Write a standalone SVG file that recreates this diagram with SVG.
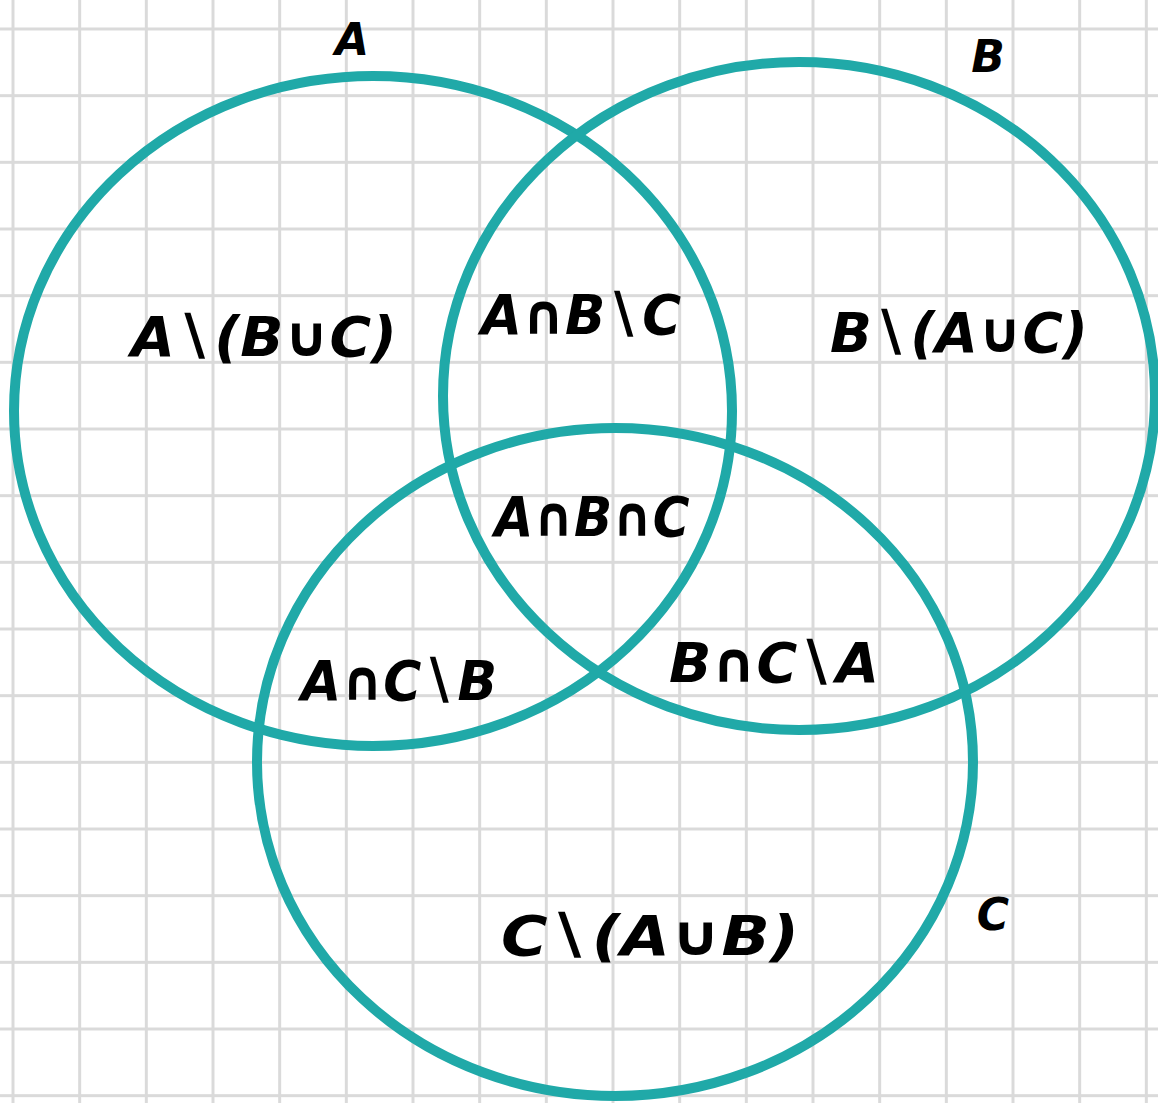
<svg xmlns="http://www.w3.org/2000/svg" width="1158" height="1103" viewBox="0 0 1158 1103">
<defs>
<pattern id="grid" x="11.5" y="27.5" width="66.667" height="66.667" patternUnits="userSpaceOnUse">
<path d="M1.5 0 V66.667 M0 1.5 H66.667" fill="none" stroke="#dadada" stroke-width="3"/>
</pattern>
<style>
.set{fill:none;stroke:#20a9a8;stroke-width:10}
.lbl{font-family:"DejaVu Sans","Liberation Sans",sans-serif;font-weight:bold;font-style:italic;fill:#000;text-anchor:middle}
.big{font-size:56px}
.name{font-size:44px}
</style>
</defs>
<rect width="1158" height="1103" fill="#fff"/>
<rect width="1158" height="1103" fill="url(#grid)"/>
<g id="connectors"></g>
<g id="setA"><ellipse class="set" cx="373" cy="411" rx="359" ry="335"/><text class="lbl name" x="352" y="55">A</text></g>
<g id="setB"><ellipse class="set" cx="799" cy="396" rx="356" ry="334"/><text class="lbl name" x="988" y="72">B</text></g>
<g id="setC"><ellipse class="set" cx="615" cy="762" rx="358" ry="334"/><text class="lbl name" x="993" y="930">C</text></g>
<g id="regionA"><text class="lbl big" x="264" y="356" textLength="266" lengthAdjust="spacingAndGlyphs">A∖(B∪C)</text></g>
<g id="regionB"><text class="lbl big" x="959" y="352" textLength="258" lengthAdjust="spacingAndGlyphs">B∖(A∪C)</text></g>
<g id="regionAB"><text class="lbl big" x="581" y="334" textLength="200" lengthAdjust="spacingAndGlyphs">A∩B∖C</text></g>
<g id="regionABC"><text class="lbl big" x="592" y="536" textLength="195" lengthAdjust="spacingAndGlyphs">A∩B∩C</text></g>
<g id="regionAC"><text class="lbl big" x="399" y="700" textLength="196" lengthAdjust="spacingAndGlyphs">A∩C∖B</text></g>
<g id="regionBC"><text class="lbl big" x="774" y="682" textLength="210" lengthAdjust="spacingAndGlyphs">B∩C∖A</text></g>
<g id="regionC"><text class="lbl big" x="650" y="955" textLength="298" lengthAdjust="spacingAndGlyphs">C∖(A∪B)</text></g>
</svg>
